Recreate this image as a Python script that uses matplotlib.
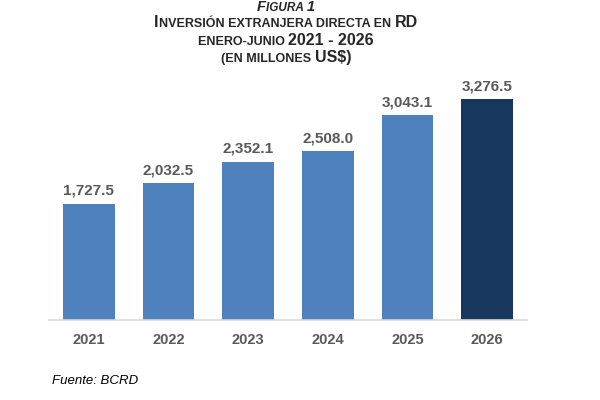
import matplotlib
matplotlib.use("Agg")
import matplotlib.pyplot as plt

plt.rcParams["font.family"] = ["Liberation Sans", "DejaVu Sans"]

years = ["2021", "2022", "2023", "2024", "2025", "2026"]
values = [1727.5, 2032.5, 2352.1, 2508.0, 3043.1, 3276.5]
colors = ["#4F81BD"] * 5 + ["#17375E"]

fig = plt.figure(figsize=(6, 4), dpi=100)
ax = fig.add_axes([0.0817, 0.2, 0.7966, 0.589])

x = list(range(len(years)))
ax.bar(x, values, width=0.65, color=colors)

for xi, v in zip(x, values):
    ax.text(xi, v + 90, f"{v:,.1f}", ha="center", va="bottom",
            fontsize=11, fontweight="bold", color="#595959")

ax.set_xlim(-0.5, 5.5)
ax.set_ylim(0, 3500)
ax.set_xticks(x)
ax.set_xticklabels(years, fontsize=10.5, fontweight="bold", color="#595959")
ax.tick_params(axis="x", length=0, pad=9)
ax.set_yticks([])
for s in ["top", "left", "right"]:
    ax.spines[s].set_visible(False)
ax.spines["bottom"].set_color("#D9D9D9")
ax.spines["bottom"].set_linewidth(1.2)

CENTER = 286


def title_line(ybase, parts, italic=False, color="#262626"):
    # parts: (text, size) pieces drawn side by side, centred on CENTER px
    fig.canvas.draw()
    r = fig.canvas.get_renderer()
    texts = []
    for txt, size in parts:
        t = fig.text(0, 1 - ybase / 400, txt, fontsize=size, fontweight="bold",
                     style="italic" if italic else "normal",
                     color=color, ha="left", va="baseline")
        texts.append(t)
    widths = [t.get_window_extent(r).width for t in texts]
    xpix = CENTER - sum(widths) / 2
    for t, w in zip(texts, widths):
        t.set_x(xpix / fig.bbox.width)
        xpix += w


big, small = 11.5, 9.0
title_line(11, [("F", 10.5), ("IGURA ", 8.5), ("1", 10.5)], italic=True)
title_line(27, [("I", big), ("NVERSIÓN EXTRANJERA DIRECTA EN ", small),
                ("RD", big)])
title_line(45, [("ENERO-JUNIO ", small), ("2021 - 2026", big)])
title_line(62, [("(EN MILLONES ", small), ("US$)", big)])

fig.text(52 / 600, 1 - 384 / 400, "Fuente: BCRD", fontsize=9.5,
         style="italic", color="#000000", ha="left", va="baseline")

fig.savefig("out.png", dpi=100)
